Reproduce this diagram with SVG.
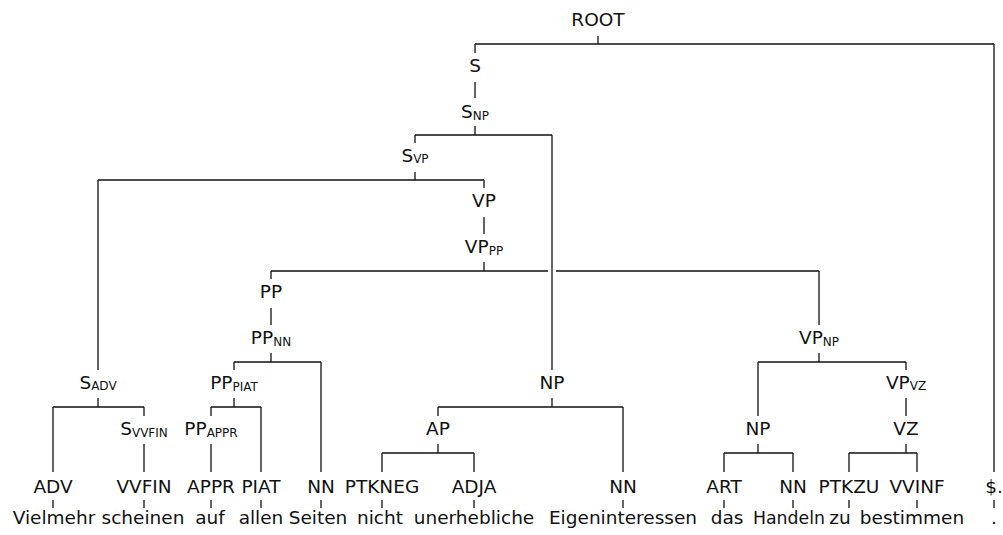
<svg xmlns="http://www.w3.org/2000/svg" width="1003" height="535" viewBox="0 0 1003 535">
<style>
text{font-family:"DejaVu Sans","Liberation Sans",sans-serif;font-size:18.5px;fill:#111;text-anchor:middle}
.s{font-size:12px}
#edges line{stroke:#111;stroke-width:1.3}
</style>
<rect width="1003" height="535" fill="#fff"/>
<g id="edges">
<line x1="598" y1="36" x2="598" y2="44"/>
<line x1="475" y1="44" x2="994" y2="44"/>
<line x1="475" y1="44" x2="475" y2="53"/>
<line x1="994" y1="44" x2="994" y2="472"/>
<line x1="475" y1="82" x2="475" y2="98"/>
<line x1="475" y1="126" x2="475" y2="135"/>
<line x1="415" y1="135" x2="552" y2="135"/>
<line x1="415" y1="135" x2="415" y2="143"/>
<line x1="552" y1="135" x2="552" y2="370"/>
<line x1="415" y1="172" x2="415" y2="180"/>
<line x1="98" y1="180" x2="484" y2="180"/>
<line x1="98" y1="180" x2="98" y2="370"/>
<line x1="484" y1="180" x2="484" y2="188"/>
<line x1="484" y1="217" x2="484" y2="234"/>
<line x1="484" y1="262" x2="484" y2="271"/>
<line x1="271" y1="271" x2="548" y2="271"/>
<line x1="556" y1="271" x2="819" y2="271"/>
<line x1="271" y1="271" x2="271" y2="279"/>
<line x1="819" y1="271" x2="819" y2="325"/>
<line x1="271" y1="308" x2="271" y2="325"/>
<line x1="271" y1="353" x2="271" y2="362"/>
<line x1="234" y1="362" x2="321" y2="362"/>
<line x1="234" y1="362" x2="234" y2="370"/>
<line x1="321" y1="362" x2="321" y2="472"/>
<line x1="234" y1="398" x2="234" y2="407"/>
<line x1="211" y1="407" x2="261" y2="407"/>
<line x1="211" y1="407" x2="211" y2="416"/>
<line x1="261" y1="407" x2="261" y2="472"/>
<line x1="211" y1="444" x2="211" y2="472"/>
<line x1="98" y1="398" x2="98" y2="407"/>
<line x1="53" y1="407" x2="144" y2="407"/>
<line x1="53" y1="407" x2="53" y2="472"/>
<line x1="144" y1="407" x2="144" y2="416"/>
<line x1="144" y1="444" x2="144" y2="472"/>
<line x1="552" y1="398" x2="552" y2="407"/>
<line x1="438" y1="407" x2="623" y2="407"/>
<line x1="438" y1="407" x2="438" y2="416"/>
<line x1="623" y1="407" x2="623" y2="472"/>
<line x1="438" y1="444" x2="438" y2="453"/>
<line x1="382" y1="453" x2="474" y2="453"/>
<line x1="382" y1="453" x2="382" y2="472"/>
<line x1="474" y1="453" x2="474" y2="472"/>
<line x1="819" y1="353" x2="819" y2="362"/>
<line x1="758" y1="362" x2="906" y2="362"/>
<line x1="758" y1="362" x2="758" y2="416"/>
<line x1="906" y1="362" x2="906" y2="370"/>
<line x1="906" y1="398" x2="906" y2="416"/>
<line x1="758" y1="444" x2="758" y2="453"/>
<line x1="724" y1="453" x2="793" y2="453"/>
<line x1="724" y1="453" x2="724" y2="472"/>
<line x1="793" y1="453" x2="793" y2="472"/>
<line x1="906" y1="444" x2="906" y2="453"/>
<line x1="849" y1="453" x2="917" y2="453"/>
<line x1="849" y1="453" x2="849" y2="472"/>
<line x1="917" y1="453" x2="917" y2="472"/>
<line x1="53" y1="500" x2="53" y2="508"/>
<line x1="144" y1="500" x2="144" y2="508"/>
<line x1="211" y1="500" x2="211" y2="508"/>
<line x1="261" y1="500" x2="261" y2="508"/>
<line x1="321" y1="500" x2="321" y2="508"/>
<line x1="382" y1="500" x2="382" y2="508"/>
<line x1="474" y1="500" x2="474" y2="508"/>
<line x1="623" y1="500" x2="623" y2="508"/>
<line x1="724" y1="500" x2="724" y2="508"/>
<line x1="793" y1="500" x2="793" y2="508"/>
<line x1="849" y1="500" x2="849" y2="508"/>
<line x1="917" y1="500" x2="917" y2="508"/>
<line x1="994" y1="500" x2="994" y2="508"/>
</g>
<g id="n-root"><text x="598" y="26">ROOT</text></g>
<g id="n-s"><text x="475" y="72">S</text></g>
<g id="n-snp"><text x="475" y="118">S<tspan class="s" dy="2">NP</tspan></text></g>
<g id="n-svp"><text x="415" y="162">S<tspan class="s" dy="1">VP</tspan></text></g>
<g id="n-vp"><text x="484" y="207">VP</text></g>
<g id="n-vppp"><text x="484" y="253">VP<tspan class="s" dy="2">PP</tspan></text></g>
<g id="n-pp"><text x="271" y="298">PP</text></g>
<g id="n-ppnn"><text x="271" y="344">PP<tspan class="s" dy="2">NN</tspan></text></g>
<g id="n-vpnp"><text x="819" y="344">VP<tspan class="s" dy="2">NP</tspan></text></g>
<g id="n-sadv"><text x="98" y="389">S<tspan class="s" dy="1">ADV</tspan></text></g>
<g id="n-pppiat"><text x="234" y="389">PP<tspan class="s" dy="2">PIAT</tspan></text></g>
<g id="n-np1"><text x="552" y="389">NP</text></g>
<g id="n-vpvz"><text x="906" y="389">VP<tspan class="s" dy="1">VZ</tspan></text></g>
<g id="n-svvfin"><text x="144" y="435">S<tspan class="s" dy="2">VVFIN</tspan></text></g>
<g id="n-ppappr"><text x="211" y="435">PP<tspan class="s" dy="2">APPR</tspan></text></g>
<g id="n-ap"><text x="438" y="435">AP</text></g>
<g id="n-np2"><text x="758" y="435">NP</text></g>
<g id="n-vz"><text x="906" y="435">VZ</text></g>
<g id="t-adv"><text x="53" y="493">ADV</text><text x="54" y="524">Vielmehr</text></g>
<g id="t-vvfin"><text x="144" y="493">VVFIN</text><text x="143" y="524">scheinen</text></g>
<g id="t-appr"><text x="211" y="493">APPR</text><text x="210" y="524">auf</text></g>
<g id="t-piat"><text x="261" y="493">PIAT</text><text x="261" y="524">allen</text></g>
<g id="t-nn1"><text x="321" y="493">NN</text><text x="318" y="524">Seiten</text></g>
<g id="t-ptkneg"><text x="382" y="493">PTKNEG</text><text x="380" y="524">nicht</text></g>
<g id="t-adja"><text x="474" y="493">ADJA</text><text x="474" y="524">unerhebliche</text></g>
<g id="t-nn2"><text x="623" y="493">NN</text><text x="623" y="524">Eigeninteressen</text></g>
<g id="t-art"><text x="724" y="493">ART</text><text x="727" y="524">das</text></g>
<g id="t-nn3"><text x="793" y="493">NN</text><text x="789" y="524" textLength="72" lengthAdjust="spacingAndGlyphs">Handeln</text></g>
<g id="t-ptkzu"><text x="849" y="493">PTKZU</text><text x="840" y="524">zu</text></g>
<g id="t-vvinf"><text x="917" y="493">VVINF</text><text x="912" y="524">bestimmen</text></g>
<g id="t-punct"><text x="994" y="493">$.</text><text x="994" y="524">.</text></g>
</svg>
